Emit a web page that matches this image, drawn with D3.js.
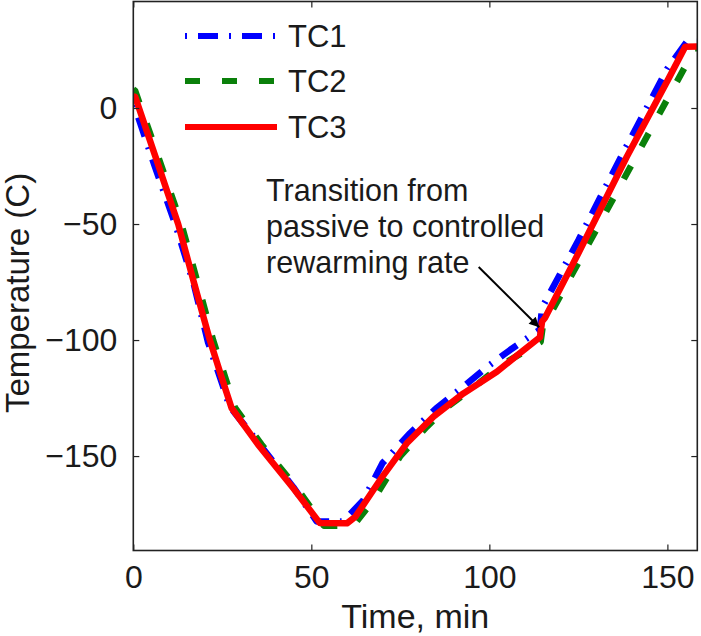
<!DOCTYPE html>
<html><head><meta charset="utf-8">
<script src="https://cdn.jsdelivr.net/npm/d3@7"></script>
<style>
html,body{margin:0;padding:0;background:#fff;}
text{font-family:"Liberation Sans",Arial,Helvetica,sans-serif;fill:#1a1a1a;}
</style></head>
<body>
<svg id="chart" width="701" height="636"></svg>
<script>
// ---- data ----
const seriesNames = ["TC1", "TC2", "TC3"];
const tc1Time = [0, 0.5, 6, 12, 17, 21, 25, 27, 35, 45, 51.5, 58.5, 60, 64.6, 70, 77.7, 85, 92.7, 99, 105.8, 113.3, 114.2, 114.8, 125, 138, 150, 155.5, 158.4];
const tc1Temp = [1, 0, -25, -51, -76, -101, -119, -128.5, -144, -163.5, -178.2, -178.2, -176.5, -169, -153, -140.2, -129.5, -120.1, -112, -104.3, -96.4, -95.5, -86, -57, -18, 17, 28.6, 28.6];
const tc2Time = [0, 0.5, 7, 13.5, 18, 22.4, 26, 28.5, 36, 46, 53.5, 61, 61.8, 67.4, 75, 82.4, 88, 94.6, 100, 105.8, 114.4, 115, 116, 126, 140, 150, 157.8, 158.4];
const tc2Temp = [8, 7.5, -21, -50, -75, -100, -117, -129, -145, -164, -180, -180, -180, -169, -150, -137.4, -129, -121.6, -115, -108.6, -100.8, -94, -92, -63.8, -24.3, 3.9, 25.7, 25.7];
const tc3Time = [0, 0.5, 6, 12.6, 17, 21.5, 25, 27.6, 35, 45, 52.4, 60, 62.4, 69.3, 76.8, 84.3, 92.7, 102.1, 108, 114.2, 114.8, 115.6, 125, 138.6, 150, 155, 158.4];
const tc3Temp = [5, 4.9, -20, -50, -75, -100, -117, -129.3, -145, -164, -178.9, -179, -176.1, -160.3, -144.5, -133, -123, -113.7, -106.3, -98.8, -92, -90.5, -62.6, -21, 11.7, 26.4, 26.5];
const xTicks = [0, 50, 100, 150];
const yTicks = [-150, -100, -50, 0];
const xLabel = "Time, min";
const yLabel = "Temperature (C)";
const annotationLines = ["Transition from", "passive to controlled", "rewarming rate"];
const annotationTextPos = [37.3, -40.1];   // data coords of first line
const arrowTail = [97.0, -68.5];
const arrowTip = [114.0, -94.5];

// ---- layout ----
const svg = d3.select("#chart");
const L = 133.3, R = 697.3, T = 1.5, B = 550.5;
const x = d3.scaleLinear().domain([0, 158.4]).range([L, R]);
const y = d3.scaleLinear().domain([-190.7, 45.9]).range([B, T]);

const series = [
  {name: seriesNames[0], t: tc1Time, v: tc1Temp, color: "#0000ff", dash: "2,11,20,11"},
  {name: seriesNames[1], t: tc2Time, v: tc2Temp, color: "#0a800a", dash: "15,22"},
  {name: seriesNames[2], t: tc3Time, v: tc3Temp, color: "#ff0000", dash: null}
];

svg.append("defs").append("clipPath").attr("id", "clip")
  .append("rect").attr("x", L).attr("y", T).attr("width", R - L).attr("height", B - T);
const marker = svg.select("defs").append("marker").attr("id", "arrow")
  .attr("viewBox", "0 0 10 10").attr("refX", 10).attr("refY", 5)
  .attr("markerWidth", 14).attr("markerHeight", 10).attr("markerUnits", "userSpaceOnUse")
  .attr("orient", "auto");
marker.append("path").attr("d", "M0,0 L10,5 L0,10 Z").attr("fill", "#000");

const line = d3.line().x(d => x(d[0])).y(d => y(d[1]));
const g = svg.append("g").attr("clip-path", "url(#clip)");
series.forEach(s => {
  const pts = s.t.map((t, i) => [t, s.v[i]]);
  g.append("path").datum(pts).attr("d", line)
    .attr("fill", "none").attr("stroke", s.color).attr("stroke-width", 6.5)
    .attr("stroke-linejoin", "round")
    .attr("stroke-dasharray", s.dash);
});

// axes (MATLAB box style with inward ticks)
const tickLen = 6;
const axB = svg.append("g").attr("transform", `translate(0,${B})`)
  .call(d3.axisBottom(x).tickValues(xTicks).tickSizeInner(-tickLen).tickSizeOuter(0).tickPadding(15).tickFormat(d3.format("d")));
const axT = svg.append("g").attr("transform", `translate(0,${T})`)
  .call(d3.axisTop(x).tickValues(xTicks).tickSizeInner(-tickLen).tickSizeOuter(0).tickFormat(""));
const axL = svg.append("g").attr("transform", `translate(${L},0)`)
  .call(d3.axisLeft(y).tickValues(yTicks).tickSizeInner(-tickLen).tickSizeOuter(0).tickPadding(16)
    .tickFormat(d => d < 0 ? "\u2212" + Math.abs(d) : String(d)));
const axR = svg.append("g").attr("transform", `translate(${R},0)`)
  .call(d3.axisRight(y).tickValues(yTicks).tickSizeInner(-tickLen).tickSizeOuter(0).tickFormat(""));
[axB, axT, axL, axR].forEach(a => {
  a.select(".domain").remove();
  a.selectAll(".tick line").attr("stroke", "#222").attr("stroke-width", 1.2);
  a.selectAll("text").attr("font-size", 32).attr("fill", "#1a1a1a")
    .style("font-family", "'Liberation Sans', Arial, sans-serif");
});
axB.selectAll("text").attr("dy", "0.71em");

svg.append("rect").attr("x", L).attr("y", T).attr("width", R - L).attr("height", B - T)
  .attr("fill", "none").attr("stroke", "#222").attr("stroke-width", 1.6);

// axis labels
svg.append("text").attr("x", (L + R) / 2).attr("y", 628).attr("text-anchor", "middle")
  .attr("font-size", 34).text(xLabel);
svg.append("text").attr("transform", "translate(29,293) rotate(-90)").attr("text-anchor", "middle")
  .attr("font-size", 33).text(yLabel);

// legend
const legY = [36, 81, 127];
series.forEach((s, i) => {
  svg.append("line").attr("x1", 185).attr("x2", 277).attr("y1", legY[i]).attr("y2", legY[i])
    .attr("stroke", s.color).attr("stroke-width", 6).attr("stroke-dasharray", s.dash);
  svg.append("text").attr("x", 288).attr("y", legY[i] + 11).attr("font-size", 31).text(s.name);
});

// annotation
const ann = svg.append("text").attr("font-size", 30.5);
annotationLines.forEach((t, i) => {
  ann.append("tspan").attr("x", x(annotationTextPos[0])).attr("y", y(annotationTextPos[1]) + i * 36).text(t);
});
svg.append("line").attr("x1", x(arrowTail[0])).attr("y1", y(arrowTail[1]))
  .attr("x2", x(arrowTip[0])).attr("y2", y(arrowTip[1]))
  .attr("stroke", "#000").attr("stroke-width", 2).attr("marker-end", "url(#arrow)");
</script>
</body></html>
